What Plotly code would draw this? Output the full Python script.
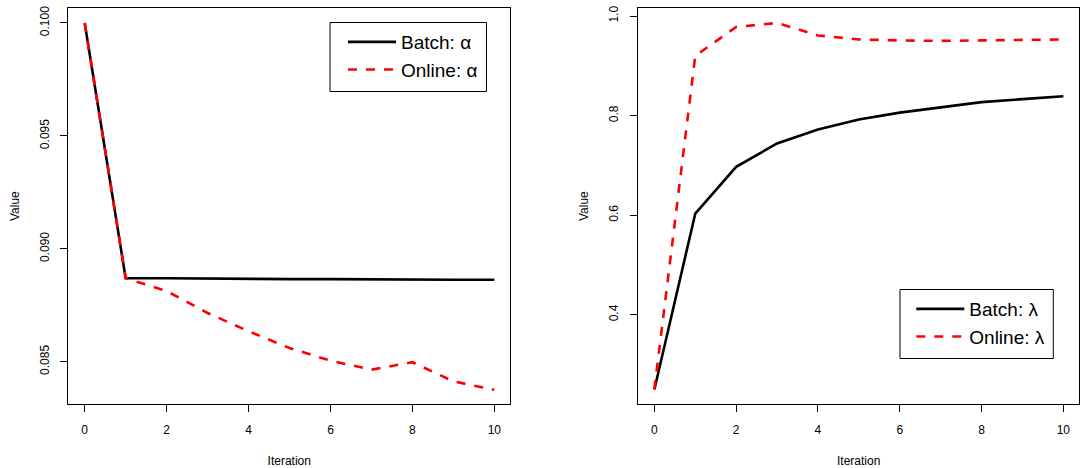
import plotly.graph_objects as go

iterations = list(range(11))
batch_alpha = [0.1000, 0.08870, 0.08870, 0.08868, 0.08867, 0.08866, 0.08866, 0.08864, 0.08864, 0.08863, 0.08863]
online_alpha = [0.1000, 0.08870, 0.08813, 0.08716, 0.08635, 0.08561, 0.08505, 0.08465, 0.08498, 0.08413, 0.08376]
batch_lambda = [0.250, 0.603, 0.697, 0.744, 0.772, 0.792, 0.806, 0.817, 0.827, 0.833, 0.839]
online_lambda = [0.250, 0.920, 0.978, 0.986, 0.961, 0.953, 0.951, 0.950, 0.951, 0.952, 0.953]
x_ticks = [0, 2, 4, 6, 8, 10]
alpha_ticks = [0.085, 0.090, 0.095, 0.100]
lambda_ticks = [0.4, 0.6, 0.8, 1.0]

W, H = 1081, 468
FONT = "Liberation Sans, Arial, sans-serif"

def px_x(p):
    return p / W

def px_y(p):
    return 1 - p / H

fig = go.Figure()
black = dict(color="black", width=2.6)
red = dict(color="#ff0000", width=2.6, dash="9px,9px")

fig.add_trace(go.Scatter(x=iterations, y=batch_alpha, mode="lines", line=black,
                         name="Batch: α", xaxis="x", yaxis="y", legend="legend"))
fig.add_trace(go.Scatter(x=iterations, y=online_alpha, mode="lines", line=red,
                         name="Online: α", xaxis="x", yaxis="y", legend="legend"))
fig.add_trace(go.Scatter(x=iterations, y=batch_lambda, mode="lines", line=black,
                         name="Batch: λ", xaxis="x2", yaxis="y2", legend="legend2"))
fig.add_trace(go.Scatter(x=iterations, y=online_lambda, mode="lines", line=red,
                         name="Online: λ", xaxis="x2", yaxis="y2", legend="legend2"))

ydom = [px_y(404), px_y(8.3)]

def xaxis(dom, anchor):
    return dict(domain=dom, anchor=anchor, range=[-0.4, 10.39], tickvals=x_ticks,
                showgrid=False, zeroline=False, showline=True, mirror=True,
                linecolor="black", linewidth=1, ticks="outside", ticklen=7,
                tickcolor="black", tickfont=dict(family=FONT, size=12, color="black"),
                ticklabelstandoff=8, automargin=False, ticklabeloverflow="allow",
                title=dict(text="Iteration", font=dict(family=FONT, size=12, color="black"),
                           standoff=25))

def yaxis(rng, ticks, fmt, anchor):
    return dict(domain=ydom, anchor=anchor, range=rng, tickvals=ticks, tickformat=fmt,
                showgrid=False, zeroline=False, showline=True, mirror=True,
                linecolor="black", linewidth=1, ticks="outside", ticklen=7,
                tickcolor="black", tickangle=-90,
                tickfont=dict(family=FONT, size=12, color="black"),
                ticklabelstandoff=7, automargin=False, ticklabeloverflow="allow",
                title=dict(text="Value", font=dict(family=FONT, size=12, color="black"),
                           standoff=15))

legend_common = dict(bgcolor="rgba(0,0,0,0)", borderwidth=0,
                     font=dict(family=FONT, size=19, color="black"),
                     xanchor="left", yanchor="top", tracegroupgap=0, itemwidth=48)

fig.update_layout(
    width=W, height=H,
    margin=dict(l=0, r=0, t=0, b=0),
    paper_bgcolor="white", plot_bgcolor="white",
    xaxis=xaxis([px_x(68.3), px_x(510.3)], "y"),
    yaxis=yaxis([0.08313, 0.10065], alpha_ticks, ".3f", "x"),
    xaxis2=xaxis([px_x(638), px_x(1079.3)], "y2"),
    yaxis2=yaxis([0.2208, 1.0155], lambda_ticks, ".1f", "x2"),
    legend=dict(x=px_x(343), y=px_y(23), **legend_common),
    legend2=dict(x=px_x(911.3), y=px_y(290), **legend_common),
    shapes=[
        dict(type="rect", xref="paper", yref="paper", x0=px_x(330), x1=px_x(486.5),
             y0=px_y(91.5), y1=px_y(22.5), line=dict(color="black", width=1)),
        dict(type="rect", xref="paper", yref="paper", x0=px_x(900), x1=px_x(1053.3),
             y0=px_y(358.5), y1=px_y(289.5), line=dict(color="black", width=1)),
    ],
)

# remove the default page margin so the figure fills the window exactly
fig.write_html("out.html", config={"displayModeBar": False},
               post_script="document.body.style.margin='0';document.body.style.overflow='hidden';")
